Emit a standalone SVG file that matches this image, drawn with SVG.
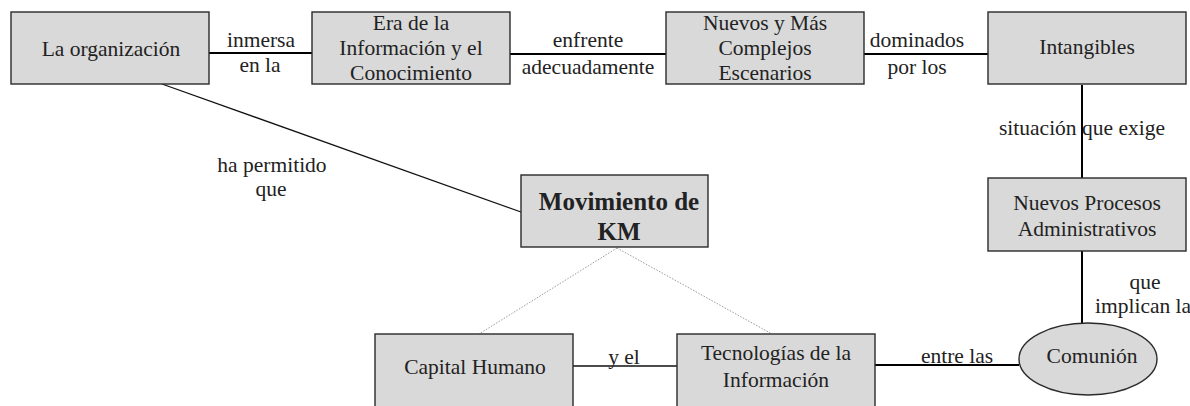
<svg xmlns="http://www.w3.org/2000/svg" width="1190" height="406" viewBox="0 0 1190 406">
<style>
.box{fill:#d9d9d9;stroke:#2a2a2a;stroke-width:1.4}
text{font-family:'Liberation Serif','Times New Roman',Times,serif;font-size:21.5px;fill:#222;text-anchor:middle}
.b{font-weight:bold;font-size:25px}
.s{text-anchor:start}
.c{stroke:#000;stroke-width:2;fill:none}
.thin{stroke:#111;stroke-width:1.3;fill:none}
.dot{stroke:#999;stroke-width:1;stroke-dasharray:1.5,1.5;fill:none}
</style>
<rect width="1190" height="406" fill="#fff"/>
<g id="connectors" font-family="Liberation Serif, serif" font-size="21.5">
<line class="c" x1="209" y1="53" x2="312" y2="53"/>
<line class="c" x1="510" y1="54" x2="666" y2="54"/>
<line class="c" x1="864" y1="54" x2="988" y2="54"/>
<line class="c" x1="1082" y1="85" x2="1082" y2="178"/>
<line class="c" x1="1082" y1="251" x2="1082" y2="323"/>
<line class="c" x1="875" y1="365" x2="1019" y2="365"/>
<line class="thin" x1="573" y1="366" x2="677" y2="366"/>
<line class="thin" x1="162" y1="84" x2="521" y2="212"/>
<line class="dot" x1="617" y1="248" x2="479" y2="334"/>
<line class="dot" x1="617" y1="248" x2="772" y2="334"/>
<text x="261" y="47">inmersa</text>
<text x="260" y="72">en la</text>
<text x="588" y="47">enfrente</text>
<text x="588" y="74">adecuadamente</text>
<text x="917" y="47">dominados</text>
<text x="917" y="74">por los</text>
<text x="1082" y="135">situación que exige</text>
<text x="272" y="172">ha permitido</text>
<text x="271" y="196">que</text>
<text x="1145" y="289">que</text>
<text class="s" x="1095" y="313">implican la</text>
<text x="957" y="363">entre las</text>
<text x="624" y="364">y el</text>
</g>
<g id="n-organizacion">
<rect class="box" x="11" y="12" width="198" height="72"/>
<text x="111" y="56">La organización</text>
</g>
<g id="n-era">
<rect class="box" x="312" y="12" width="198" height="72"/>
<text x="411" y="30">Era de la</text>
<text x="411" y="55">Información y el</text>
<text x="411" y="80">Conocimiento</text>
</g>
<g id="n-escenarios">
<rect class="box" x="666" y="12" width="198" height="72"/>
<text x="765" y="30">Nuevos y Más</text>
<text x="765" y="55">Complejos</text>
<text x="765" y="80">Escenarios</text>
</g>
<g id="n-intangibles">
<rect class="box" x="988" y="12" width="198" height="72"/>
<text x="1087" y="54">Intangibles</text>
</g>
<g id="n-procesos">
<rect class="box" x="988" y="178" width="198" height="73"/>
<text x="1087" y="210">Nuevos Procesos</text>
<text x="1087" y="236">Administrativos</text>
</g>
<g id="n-movimiento">
<rect class="box" x="521" y="175" width="187" height="72"/>
<text class="b" x="619" y="210">Movimiento de</text>
<text class="b" x="619" y="240">KM</text>
</g>
<g id="n-capital">
<rect class="box" x="375" y="334" width="198" height="90"/>
<text x="475" y="374">Capital Humano</text>
</g>
<g id="n-tecnologias">
<rect class="box" x="677" y="334" width="198" height="90"/>
<text x="776" y="360">Tecnologías de la</text>
<text x="776" y="387">Información</text>
</g>
<g id="n-comunion">
<ellipse class="box" cx="1088" cy="359" rx="69" ry="36"/>
<text x="1092" y="363">Comunión</text>
</g>
</svg>
